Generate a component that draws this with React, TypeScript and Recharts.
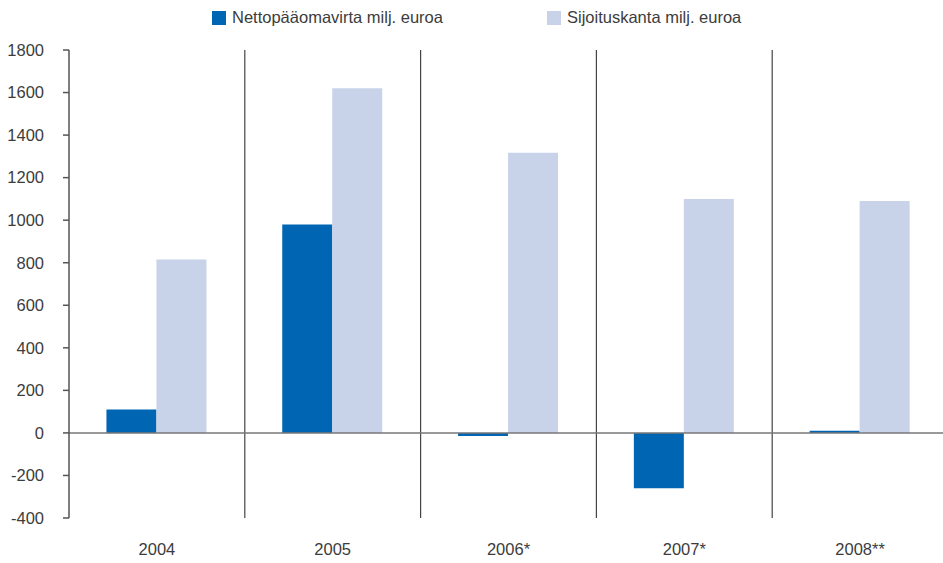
import { BarChart, Bar, XAxis, YAxis, CartesianGrid, ReferenceLine } from "recharts";

const years = ["2004", "2005", "2006*", "2007*", "2008**"];
const nettoFlow = [110, 980, -15, -260, 10];
const holdings = [815, 1620, 1317, 1100, 1090];
const yTicks = [-400, -200, 0, 200, 400, 600, 800, 1000, 1200, 1400, 1600, 1800];

const seriesNames = ["Nettopääomavirta milj. euroa", "Sijoituskanta milj. euroa"];
const seriesColors = ["#0066b3", "#c8d3ea"];

const FONT = "'Liberation Sans', Arial, sans-serif";
const TEXT_COLOR = "#3c3c3c";

const data = years.map((year, i) => ({
  year,
  netto: nettoFlow[i],
  kanta: holdings[i],
}));

function Legend() {
  return (
    <div
      style={{
        position: "absolute",
        top: 8,
        left: 212,
        display: "flex",
        fontFamily: FONT,
        fontSize: 16.5,
        color: TEXT_COLOR,
      }}
    >
      {seriesNames.map((name, i) => (
        <div key={name} style={{ display: "flex", alignItems: "center", width: 335 }}>
          <span
            style={{
              display: "inline-block",
              width: 14,
              height: 14,
              background: seriesColors[i],
              marginRight: 6,
            }}
          />
          <span>{name}</span>
        </div>
      ))}
    </div>
  );
}

export default function App() {
  return (
    <div
      style={{
        position: "absolute",
        left: 0,
        top: 0,
        width: 943,
        height: 563,
        overflow: "hidden",
        background: "#fff",
      }}
    >
      <Legend />
      <BarChart
        width={950}
        height={563}
        data={data}
        margin={{ top: 50, right: 2, bottom: 0, left: 0 }}
        barGap={0}
        barCategoryGap="21.3%"
      >
        <CartesianGrid
          horizontal={false}
          stroke="#444"
          strokeWidth={1.2}
          verticalCoordinatesGenerator={({ offset }: any) =>
            years.slice(1).map((_, i) => offset.left + (offset.width * (i + 1)) / years.length)
          }
        />
        <XAxis
          dataKey="year"
          axisLine={false}
          tickLine={false}
          tickSize={0}
          tickMargin={25}
          height={45}
          tick={{ fill: TEXT_COLOR, fontSize: 16.5, fontFamily: FONT }}
        />
        <YAxis
          domain={[-400, 1800]}
          ticks={yTicks}
          interval={0}
          width={69}
          axisLine={{ stroke: "#555", strokeWidth: 1.5 }}
          tickLine={{ stroke: "#555", strokeWidth: 1.5 }}
          tickSize={6}
          tickMargin={19}
          tick={{ fill: TEXT_COLOR, fontSize: 16.5, fontFamily: FONT }}
        />
        <Bar dataKey="netto" fill={seriesColors[0]} isAnimationActive={false} />
        <Bar dataKey="kanta" fill={seriesColors[1]} isAnimationActive={false} />
        <ReferenceLine y={0} stroke="#777" strokeWidth={1.5} />
      </BarChart>
    </div>
  );
}
